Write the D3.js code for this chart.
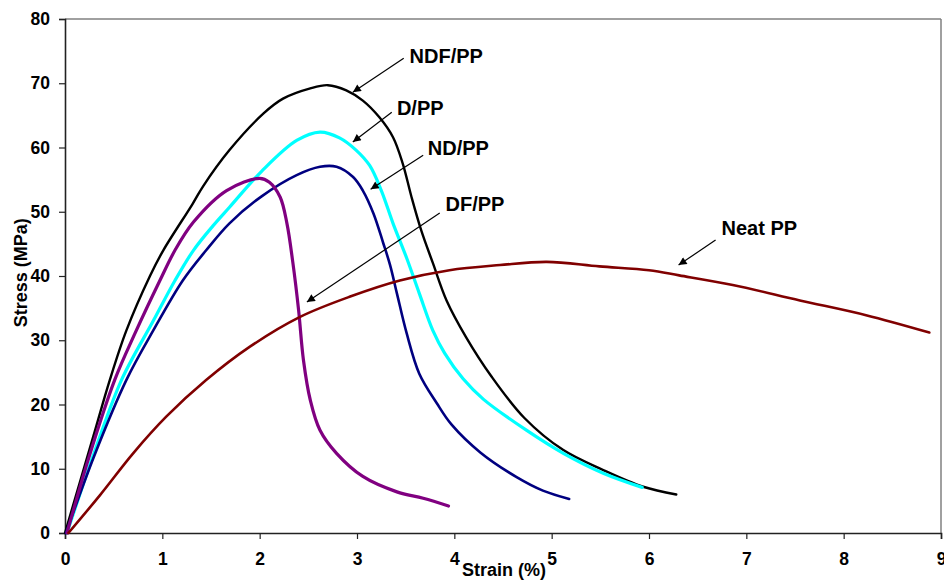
<!DOCTYPE html>
<html><head><meta charset="utf-8">
<script src="https://cdn.jsdelivr.net/npm/d3@7"></script>
<style>
body{margin:0;background:#fff}
svg text{font-family:"Liberation Sans",Arial,Helvetica,sans-serif;font-weight:bold;fill:#000}
</style>
</head><body>
<svg id="chart" width="944" height="580"></svg>
<script>
// ---- data ----
const xTicks = [0,1,2,3,4,5,6,7,8,9];
const yTicks = [0,10,20,30,40,50,60,70,80];
const xTitle = "Strain (%)";
const yTitle = "Stress (MPa)";
const seriesNames = ["NDF/PP","D/PP","ND/PP","DF/PP","Neat PP"];

const ndfStrain = [0,0.29,0.46,0.63,0.873,1.01,1.31,1.42,1.69,2.04,2.24,2.52,2.70,2.89,3.06,3.23,3.37,3.47,3.56,3.66,3.78,3.92,4.12,4.38,4.72,5.12,5.53,5.94,6.28];
const ndfStress = [0,15.0,23.8,31.5,40.0,44.0,51.2,54.0,59.6,65.3,67.6,69.2,69.7,68.9,67.3,64.7,61.6,57.5,52.3,47.1,42.0,36.2,30.5,24.4,17.9,12.9,9.8,7.2,6.0];

const dStrain = [0.02,0.3,0.58,0.91,1.13,1.32,1.52,1.69,2.02,2.38,2.62,2.82,2.99,3.13,3.25,3.37,3.51,3.64,3.78,3.90,4.09,4.30,4.74,5.12,5.53,5.93];
const dStress = [0,12.5,23.8,33.1,39.3,44.0,47.8,50.7,56.3,61.1,62.4,61.5,59.6,57.2,53.3,48.2,42.8,37.3,31.5,28.0,24.0,20.8,16.0,12.4,9.3,7.1];

const ndStrain = [0.01,0.3,0.63,0.91,1.21,1.45,1.69,2.02,2.38,2.62,2.79,2.96,3.06,3.17,3.27,3.34,3.41,3.51,3.64,3.82,3.97,4.27,4.64,4.91,5.18];
const ndStress = [0,12.0,23.8,31.6,39.3,44.0,48.2,52.4,55.7,57.0,57.0,55.4,53.3,49.7,45.1,41.7,37.3,31.1,24.8,20.2,16.9,12.5,8.7,6.6,5.3];

const dfStrain = [0.02,0.25,0.51,0.72,0.975,1.13,1.32,1.66,2.0,2.10,2.21,2.28,2.34,2.40,2.45,2.52,2.62,2.79,3.06,3.41,3.68,3.94];
const dfStress = [0,12.0,23.8,31.1,39.3,44.0,48.4,53.3,55.2,54.6,52.3,48.2,42.2,34.7,26.9,20.7,16.0,12.4,8.8,6.4,5.4,4.2];

const neatStrain = [0.035,0.36,0.70,1.04,1.45,1.90,2.41,2.93,3.44,3.95,4.47,4.95,5.49,6.0,6.31,6.86,7.55,8.23,8.88];
const neatStress = [0,5.9,12.4,18.1,23.8,29.0,33.6,36.8,39.3,40.9,41.7,42.2,41.5,40.9,40.1,38.6,36.2,33.9,31.2];

// ---- layout ----
const W = 944, H = 580;
const margin = {left:65, top:19, right:3, bottom:47};
const svg = d3.select("#chart");
const x = d3.scaleLinear().domain([0,9]).range([margin.left, W-margin.right]);
const y = d3.scaleLinear().domain([0,80]).range([H-margin.bottom, margin.top]);

const series = [
  {name:seriesNames[0], xs:ndfStrain, ys:ndfStress, color:"#000000", w:2.4},
  {name:seriesNames[1], xs:dStrain, ys:dStress, color:"#00FFFF", w:3.2},
  {name:seriesNames[2], xs:ndStrain, ys:ndStress, color:"#000080", w:2.6},
  {name:seriesNames[3], xs:dfStrain, ys:dfStress, color:"#800080", w:3.2},
  {name:seriesNames[4], xs:neatStrain, ys:neatStress, color:"#800000", w:2.6}
];

// frame (top / right)
svg.append("line").attr("x1",x(0)).attr("x2",x(9)).attr("y1",y(80)).attr("y2",y(80))
  .attr("stroke","#808080").attr("stroke-width",1.5);
svg.append("line").attr("x1",x(9)).attr("x2",x(9)).attr("y1",y(80)).attr("y2",y(0))
  .attr("stroke","#808080").attr("stroke-width",1.5);

// axes
const xAxis = svg.append("g").attr("transform",`translate(0,${y(0)})`)
  .call(d3.axisBottom(x).tickValues(xTicks).tickFormat(d3.format("d")).tickSize(6).tickPadding(14));
const yAxis = svg.append("g").attr("transform",`translate(${x(0)},0)`)
  .call(d3.axisLeft(y).tickValues(yTicks).tickFormat(d3.format("d")).tickSize(6).tickPadding(9));
[xAxis,yAxis].forEach(g=>{
  g.select(".domain").attr("stroke","#222").attr("stroke-width",1.6);
  g.selectAll(".tick line").attr("stroke","#222").attr("stroke-width",1.2);
  g.selectAll(".tick text").attr("font-size",17.5).attr("font-family",null);
});

// lines
const line = d3.line().x(d=>x(d[0])).y(d=>y(d[1])).curve(d3.curveCatmullRom.alpha(0.5));
series.forEach(s=>{
  const pts = s.xs.map((v,i)=>[v,s.ys[i]]);
  svg.append("path").datum(pts).attr("d",line)
    .attr("fill","none").attr("stroke",s.color).attr("stroke-width",s.w)
    .attr("stroke-linejoin","round").attr("stroke-linecap","round");
});

// axis titles
svg.append("text").attr("x",x(4.51)).attr("y",576).attr("text-anchor","middle")
  .attr("font-size",18).text(xTitle);
svg.append("text").attr("transform",`translate(27,${y(40.5)}) rotate(-90)`)
  .attr("text-anchor","middle").attr("font-size",18).text(yTitle);

// annotations (data coordinates)
const annotations = [
  {label:seriesNames[0], tx:3.54, ty:73.15, ax1:3.48, ay1:73.9, ax2:2.957, ay2:68.6},
  {label:seriesNames[1], tx:3.41, ty:65.06, ax1:3.357, ay1:65.5, ax2:2.957, ay2:60.86},
  {label:seriesNames[2], tx:3.727, ty:58.83, ax1:3.68, ay1:58.8, ax2:3.14, ay2:53.5},
  {label:seriesNames[3], tx:3.91, ty:50.1, ax1:3.85, ay1:49.8, ax2:2.485, ay2:35.95},
  {label:seriesNames[4], tx:6.745, ty:46.4, ax1:6.684, ay1:45.6, ax2:6.304, ay2:41.7}
];
svg.append("defs").append("marker").attr("id","arr")
  .attr("viewBox","0 0 10 10").attr("refX",10).attr("refY",5)
  .attr("markerWidth",10).attr("markerHeight",8).attr("markerUnits","userSpaceOnUse")
  .attr("orient","auto")
  .append("path").attr("d","M0,0 L10,5 L0,10 Z").attr("fill","#000");
annotations.forEach(a=>{
  svg.append("line").attr("x1",x(a.ax1)).attr("y1",y(a.ay1)).attr("x2",x(a.ax2)).attr("y2",y(a.ay2))
    .attr("stroke","#000").attr("stroke-width",1.2).attr("marker-end","url(#arr)");
  svg.append("text").attr("x",x(a.tx)).attr("y",y(a.ty)).attr("font-size",20).text(a.label);
});
</script>
</body></html>
